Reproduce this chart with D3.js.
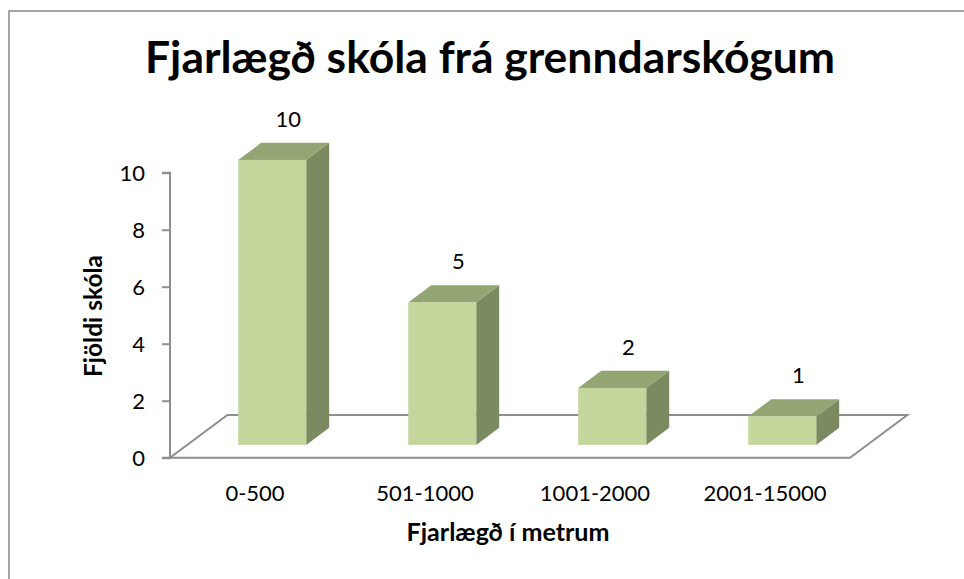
<!DOCTYPE html>
<html>
<head>
<meta charset="utf-8">
<script src="https://cdn.jsdelivr.net/npm/d3@7"></script>
<style>
body { margin: 0; background: #fff; }
text { font-family: Lato, "Open Sans", sans-serif; fill: #000; }
</style>
</head>
<body>
<svg id="chart" width="964" height="579"></svg>
<script>
const title = 'Fjarlægð skóla frá grenndarskógum'
const xTitle = 'Fjarlægð í metrum'
const yTitle = 'Fjöldi skóla'
const categories = ['0-500', '501-1000', '1001-2000', '2001-15000']
const values = [10, 5, 2, 1]
const yTicks = [0, 2, 4, 6, 8, 10]

const svg = d3.select('#chart')
// floor front edge and depth vector (oblique projection)
const x0 = 170, x1 = 850, yBase = 457.7, yTop = 172.7
const depth = { dx: 57.4, dy: -42.7 }
const front = 0.3, back = 0.7 // bar occupies this slice of floor depth
const fs = 22

const x = d3.scaleBand().domain(categories).range([x0, x1]).padding(0)
const y = d3.scaleLinear().domain([0, 10]).range([yBase, yTop])

// outer border
svg.append('rect').attr('x', 9).attr('y', 11).attr('width', 1000).attr('height', 700)
  .attr('fill', '#fff').attr('stroke', '#868686').attr('stroke-width', 1.5)

// floor
const floor = [[x0, yBase], [x1, yBase], [x1 + depth.dx, yBase + depth.dy], [x0 + depth.dx, yBase + depth.dy]]
svg.append('path').attr('d', d3.line()(floor) + 'Z')
  .attr('fill', 'none').attr('stroke', '#8f8f8f').attr('stroke-width', 2)

// y axis
const ax = svg.append('g').attr('transform', `translate(${x0},0)`)
  .call(d3.axisLeft(y).tickValues(yTicks).tickSize(8).tickPadding(17).tickFormat(d3.format('d')))
ax.select('.domain').attr('stroke', '#8f8f8f').attr('stroke-width', 2).attr('d', `M-8,${yTop}H0V${yBase}H-8`)
ax.selectAll('.tick line').attr('stroke', '#8f8f8f').attr('stroke-width', 2)
ax.selectAll('.tick text').attr('font-size', fs).attr('font-family', 'Lato').attr('fill', '#000').attr('dy', '0.36em')

// bars
const bw = x.bandwidth() * (back - front)
const bdx = depth.dx * (back - front), bdy = depth.dy * (back - front)
const unit = y(0) - y(1)
const bars = svg.append('g').selectAll('g').data(categories.map((c, i) => ({ c, v: values[i] }))).enter().append('g')
bars.each(function (d) {
  const g = d3.select(this)
  const L = x(d.c) + x.bandwidth() * front + depth.dx * front
  const B = yBase + depth.dy * front
  const T = B - d.v * unit
  const R = L + bw
  g.append('path').attr('d', d3.line()([[R, B], [R + bdx, B + bdy], [R + bdx, T + bdy], [R, T]]) + 'Z').attr('fill', '#7b8a60')
  g.append('path').attr('d', d3.line()([[L, T], [R, T], [R + bdx, T + bdy], [L + bdx, T + bdy]]) + 'Z').attr('fill', '#94a574')
  g.append('rect').attr('x', L).attr('y', T).attr('width', bw).attr('height', B - T).attr('fill', '#c4d69c')
  g.append('text').attr('x', L + bw / 2 + bdx * 0.7).attr('y', T - 33).attr('text-anchor', 'middle')
    .attr('font-size', fs).text(d.v)
})

// category labels
svg.append('g').selectAll('text').data(categories).enter().append('text')
  .attr('x', d => x(d) + x.bandwidth() / 2).attr('y', 501).attr('text-anchor', 'middle')
  .attr('font-size', fs).text(d => d)

// fit a bold text to a target width
function fitText(sel, target) {
  const w = sel.node().getComputedTextLength()
  const f = parseFloat(sel.attr('font-size'))
  sel.attr('font-size', (f * target / w).toFixed(2))
}

const t = svg.append('text').attr('x', 490).attr('y', 73).attr('text-anchor', 'middle')
  .attr('font-weight', 'bold').attr('font-size', 40).text(title)
fitText(t, 690)

const xt = svg.append('text').attr('x', 508).attr('y', 541).attr('text-anchor', 'middle')
  .attr('font-weight', 'bold').attr('font-size', 21).text(xTitle)
fitText(xt, 203)

const yt = svg.append('text').attr('transform', 'translate(102,316) rotate(-90)').attr('text-anchor', 'middle')
  .attr('font-weight', 'bold').attr('font-size', 21).text(yTitle)
fitText(yt, 122)
</script>
</body>
</html>
